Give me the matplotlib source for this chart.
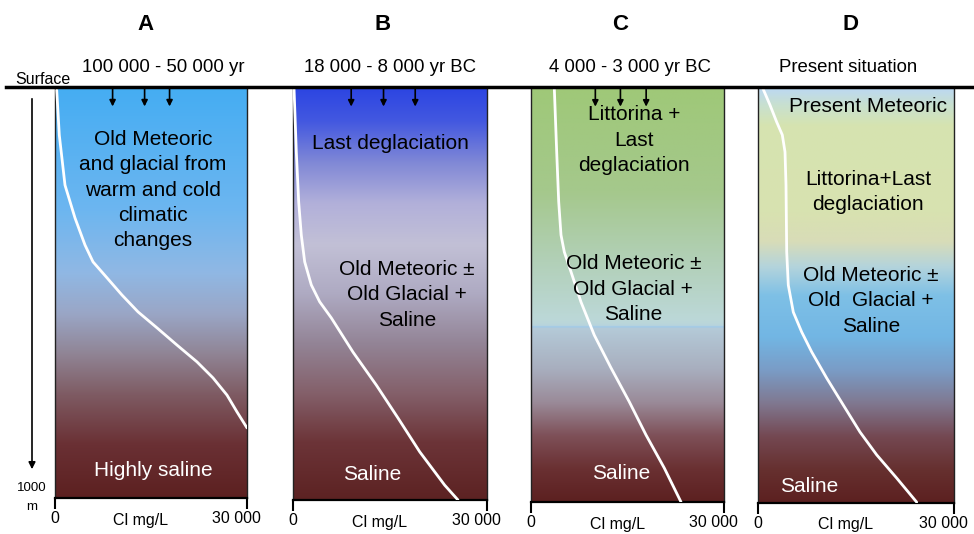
import matplotlib
matplotlib.use("Agg")
import matplotlib.pyplot as plt
import numpy as np
from matplotlib.colors import LinearSegmentedColormap
from matplotlib.lines import Line2D
from matplotlib.patches import FancyArrowPatch
from matplotlib.transforms import ScaledTranslation

plt.rcParams['font.family'] = ['Liberation Sans', 'DejaVu Sans']

# ---- data ----
panel_letters = ["A", "B", "C", "D"]
panel_periods = ["100 000 - 50 000 yr", "18 000 - 8 000 yr BC",
                 "4 000 - 3 000 yr BC", "Present situation"]
x_tick_values = [0, 30000]
x_tick_labels = ["0", "30 000"]
x_axis_label = "Cl mg/L"

# Cl (mg/L) vs depth (m) curves
cl_A = [266, 672, 1563, 3125, 4688, 5938, 8125, 10469, 12969, 15938, 19063, 22188, 24688, 26875, 28438, 30000]
depth_A = [5, 115, 237, 317, 383, 424, 463, 505, 546, 585, 627, 668, 707, 749, 790, 829]

cl_B = [155, 510, 881, 1284, 1809, 2830, 4129, 5923, 9278, 12881, 16237, 19593, 23459, 25515]
depth_B = [0, 155, 277, 357, 422, 478, 519, 558, 641, 721, 801, 883, 964, 1000]

cl_C = [3622, 3995, 4306, 4663, 5176, 6218, 7772, 9839, 12435, 15280, 17876, 20720, 23316]
depth_C = [0, 155, 275, 355, 396, 444, 517, 597, 676, 758, 838, 918, 1000]

cl_D = [719, 1837, 2862, 3719, 4133, 4286, 4393, 4638, 5403, 6689, 8219, 10515, 13056, 15612, 18168, 21230, 24291]
depth_D = [0, 41, 82, 113, 154, 234, 395, 475, 540, 588, 636, 699, 764, 829, 884, 940, 998]

curves_cl = [cl_A, cl_B, cl_C, cl_D]
curves_depth = [depth_A, depth_B, depth_C, depth_D]

# text labels: (text, x in Cl, depth, colour)
labels_A = [("Old Meteoric\nand glacial from\nwarm and cold\nclimatic\nchanges", 15300, 249, "black"),
            ("Highly saline", 15300, 932, "white")]
labels_B = [("Last deglaciation", 15000, 134, "black"),
            ("Old Meteoric ±\nOld Glacial +\nSaline", 17600, 502, "black"),
            ("Saline", 12300, 937, "white")]
labels_C = [("Littorina +\nLast\ndeglaciation", 16000, 126, "black"),
            ("Old Meteoric ±\nOld Glacial +\nSaline", 15900, 486, "black"),
            ("Saline", 14000, 932, "white")]
labels_D = [("Present Meteoric", 16800, 44, "black"),
            ("Littorina+Last\ndeglaciation", 16900, 250, "black"),
            ("Old Meteoric ±\nOld  Glacial +\nSaline", 17300, 513, "black"),
            ("Saline", 7900, 960, "white")]
panel_labels = [labels_A, labels_B, labels_C, labels_D]

# infiltration arrows (Cl positions)
arrows_A = [9000, 14000, 17900]
arrows_B = [9000, 14000, 18900]
arrows_C = [10000, 13900, 17900]
arrows_D = []
panel_arrows = [arrows_A, arrows_B, arrows_C, arrows_D]

# ---- styles ----
grad_A = [(0, '#45adf3'), (0.3, '#6db6f0'), (0.45, '#90b8e4'), (0.55, '#9aa6c6'),
          (0.65, '#908494'), (0.75, '#7e5a62'), (0.87, '#6a3034'), (1, '#5c2020')]
grad_B = [(0, '#2c45e2'), (0.08, '#4358e0'), (0.18, '#8088d6'), (0.28, '#b2b0da'),
          (0.38, '#c2c0d6'), (0.5, '#aeaac2'), (0.62, '#938496'), (0.74, '#84606a'),
          (0.86, '#6c3438'), (1, '#5c2222')]
grad_C = [(0, '#9fc878'), (0.25, '#a5c88c'), (0.42, '#b2d0b8'), (0.56, '#bcd8d8'),
          (0.574, '#b8d4dc'), (0.577, '#9cc8ea'), (0.580, '#b4cad8'), (0.68, '#a8aebe'),
          (0.76, '#9a8a98'), (0.84, '#7e5058'), (0.92, '#6a3032'), (1, '#5c2020')]
grad_D = [(0, '#bcd8f2'), (0.04, '#c8e0d0'), (0.09, '#d6e4b0'), (0.3, '#d8e2b0'),
          (0.37, '#d8dcb8'), (0.43, '#b4d4dc'), (0.5, '#7ec0e6'), (0.6, '#72b6e4'),
          (0.68, '#7a9cc6'), (0.76, '#807890'), (0.84, '#744852'), (0.92, '#66302f'),
          (1, '#5c2020')]
grads = [grad_A, grad_B, grad_C, grad_D]

W, H = 974, 534
# pixel boxes (left, right, top, bottom)
boxes = [(55, 247, 88, 498), (293, 487, 88, 500), (531, 724, 88, 502), (758, 954, 88, 503)]
letter_x = [146, 383, 620, 851]
period_x = [163, 390, 630, 848]

fig = plt.figure(figsize=(W / 100, H / 100), dpi=100)

for i in range(4):
    l, r, t, b = boxes[i]
    ax = fig.add_axes([l / W, 1 - b / H, (r - l) / W, (b - t) / H])
    cmap = LinearSegmentedColormap.from_list(f"g{i}", grads[i], N=1024)
    grad = np.linspace(0, 1, 1024).reshape(-1, 1)
    ax.imshow(grad, cmap=cmap, aspect='auto', extent=[0, 30000, 1000, 0],
              interpolation='bilinear', zorder=0)
    ax.set_xlim(0, 30000)
    ax.set_ylim(1000, 0)
    ax.plot(curves_cl[i], curves_depth[i], color='white', lw=2.0, zorder=3,
            solid_capstyle='round', solid_joinstyle='round')
    for txt, x, y, c in panel_labels[i]:
        ax.text(x, y, txt, ha='center', va='center', color=c, fontsize=15,
                linespacing=1.42, zorder=4)
    for ax_x in panel_arrows[i]:
        ax.annotate("", xy=(ax_x, 45), xytext=(ax_x, 0),
                    arrowprops=dict(arrowstyle='-|>', color='black', lw=1.2,
                                    mutation_scale=9, shrinkA=0, shrinkB=0),
                    zorder=5)
    ax.set_yticks([])
    ax.set_xticks(x_tick_values)
    ax.set_xticklabels(x_tick_labels, fontsize=11.5)
    ax.tick_params(axis='x', length=8, width=1.5, pad=1.5, color='black')
    lbls = ax.get_xticklabels()
    lbls[1].set_transform(lbls[1].get_transform() +
                          ScaledTranslation(-11 / 100, 0, fig.dpi_scale_trans))
    fig.text(((l + r) / 2 - 10) / W, 1 - (b + 22) / H, x_axis_label,
             ha='center', va='center', fontsize=11.5)
    ax.spines['top'].set_visible(False)
    for s in ['left', 'right']:
        ax.spines[s].set_linewidth(1.0)
        ax.spines[s].set_color('#222222')
    ax.spines['bottom'].set_linewidth(1.6)

    fig.text(letter_x[i] / W, 1 - 24 / H, panel_letters[i], ha='center', va='center',
             fontsize=16, fontweight='bold')
    fig.text(period_x[i] / W, 1 - 67 / H, panel_periods[i], ha='center', va='center',
             fontsize=13.4)

# surface line
fig.add_artist(Line2D([6 / W, 1.0], [1 - 87 / H, 1 - 87 / H], color='black', lw=2.5))
fig.text(43 / W, 1 - 80 / H, "Surface", ha='center', va='center', fontsize=11.5)

# depth arrow
fig.add_artist(FancyArrowPatch(
    (32 / W, 1 - 96 / H), (32 / W, 1 - 472 / H), transform=fig.transFigure,
    arrowstyle='-|>', mutation_scale=10, color='black', lw=1.2))
fig.text(32 / W, 1 - 488 / H, "1000", ha='center', va='center', fontsize=9.5)
fig.text(32 / W, 1 - 507 / H, "m", ha='center', va='center', fontsize=9.5)

fig.savefig("out.png", dpi=100)
